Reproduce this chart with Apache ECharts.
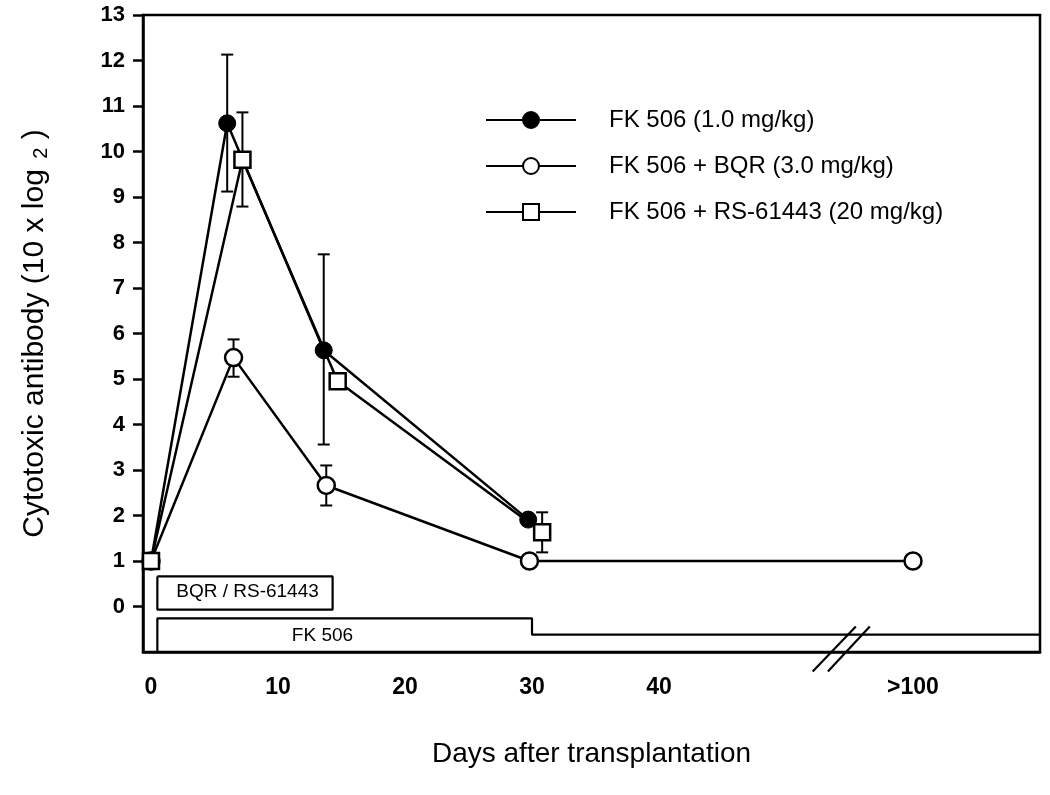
<!DOCTYPE html>
<html>
<head>
<meta charset="utf-8">
<script src="https://cdn.jsdelivr.net/npm/echarts@6/dist/echarts.min.js"></script>
<style>html,body{margin:0;padding:0;background:#fff}#c{width:1050px;height:795px}</style>
</head>
<body>
<div id="c"></div>
<script>
// ---- data ----
const seriesNames = ['FK 506 (1.0 mg/kg)', 'FK 506 + BQR (3.0 mg/kg)', 'FK 506 + RS-61443 (20 mg/kg)'];
const fkDays = [0, 6, 13.6, 29.7];
const fkVals = [1, 10.62, 5.63, 1.91];
const fkErr = [[6, 9.12, 12.13], [13.6, 3.56, 7.74]];
const bqrDays = [0, 6.5, 13.8, 29.8, 60];
const bqrVals = [1, 5.47, 2.66, 1.0, 1.0];
const bqrErr = [[6.5, 5.05, 5.87], [13.8, 2.22, 3.1]];
const rsDays = [0, 7.2, 14.7, 30.8];
const rsVals = [1, 9.82, 4.95, 1.63];
const rsErr = [[7.2, 8.79, 10.86], [30.8, 1.19, 2.07]];
const xTickValues = [0, 10, 20, 30, 40, 60];
const xTickLabels = ['0', '10', '20', '30', '40', '>100'];
const yTickValues = [0, 1, 2, 3, 4, 5, 6, 7, 8, 9, 10, 11, 12, 13];
// treatment bars (day, level)
const bqrBar = [[0.5, 0.66], [14.3, 0.66], [14.3, -0.07], [0.5, -0.07], [0.5, 0.66]];
const fkBar = [[0.5, -1], [0.5, -0.26], [30, -0.26], [30, -0.62], [70, -0.62]];
const barLabels = [[7.6, 0.32, 'BQR / RS-61443'], [13.5, -0.64, 'FK 506']];
const breakMark1 = [[52.1, -1.43], [55.5, -0.44]];
const breakMark2 = [[53.3, -1.43], [56.6, -0.44]];

const FONT = '"Liberation Sans", Arial, Helvetica, sans-serif';
const zip = (a, b) => a.map((v, i) => [v, b[i]]);

function errItem(params, api) {
  const x = api.value(0), lo = api.value(1), hi = api.value(2);
  const p1 = api.coord([x, lo]), p2 = api.coord([x, hi]);
  const w = 6;
  const st = {stroke: '#000', lineWidth: 2};
  return {type: 'group', children: [
    {type: 'line', shape: {x1: p1[0], y1: p1[1], x2: p2[0], y2: p2[1]}, style: st},
    {type: 'line', shape: {x1: p1[0] - w, y1: p1[1], x2: p1[0] + w, y2: p1[1]}, style: st},
    {type: 'line', shape: {x1: p2[0] - w, y1: p2[1], x2: p2[0] + w, y2: p2[1]}, style: st}
  ]};
}

const lineCommon = {
  type: 'line', color: '#000', lineStyle: {color: '#000', width: 2.5},
  symbolSize: 17, z: 5, animation: false
};
const plainLine = (data) => ({
  type: 'line', data, symbol: 'none', lineStyle: {color: '#000', width: 2.2},
  clip: false, silent: true, animation: false, z: 3
});

const chart = echarts.init(document.getElementById('c'), null, {renderer: 'canvas'});
chart.setOption({
  backgroundColor: '#fff',
  animation: false,
  textStyle: {fontFamily: FONT, color: '#000'},
  grid: {left: 143, right: 10, top: 15, bottom: 143, show: true, borderColor: '#000', borderWidth: 2.5},
  legend: {
    data: seriesNames, orient: 'vertical', left: 480, top: 103,
    itemWidth: 90, itemHeight: 20, itemGap: 22,
    textStyle: {fontSize: 24, fontFamily: FONT, color: '#000', padding: [0, 0, 0, 28]}
  },
  xAxis: {
    type: 'value', min: -0.63, max: 70,
    axisLine: {onZero: false, lineStyle: {color: '#000', width: 2.5}},
    axisTick: {show: false},
    splitLine: {show: false},
    axisLabel: {
      customValues: xTickValues, fontSize: 23, fontWeight: 'bold', color: '#000', margin: 24,
      formatter: (v) => { const i = xTickValues.indexOf(v); return i >= 0 ? xTickLabels[i] : ''; }
    },
    name: 'Days after transplantation', nameLocation: 'middle', nameGap: 88,
    nameTextStyle: {fontSize: 28, color: '#000', fontFamily: FONT}
  },
  yAxis: {
    type: 'value', min: -1, max: 13, interval: 1,
    axisLine: {show: true, onZero: false, lineStyle: {color: '#000', width: 2.5}},
    axisTick: {show: true, customValues: yTickValues, length: 10, lineStyle: {color: '#000', width: 2.5}},
    splitLine: {show: false},
    axisLabel: {customValues: yTickValues, fontSize: 22, fontWeight: 'bold', color: '#000', margin: 18},
    name: '{a|Cytotoxic antibody (10 x log }{s|2}{a| )}', nameLocation: 'middle', nameGap: 92, nameRotate: 90,
    nameTextStyle: {
      color: '#000', fontFamily: FONT,
      rich: {
        a: {fontSize: 30, fontFamily: FONT, color: '#000'},
        s: {fontSize: 20, fontFamily: FONT, color: '#000', padding: [12, 0, 0, 2]}
      }
    }
  },
  series: [
    {type: 'custom', name: 'errFK', data: fkErr, renderItem: errItem, encode: {x: 0, y: [1, 2]}, z: 2, silent: true},
    {type: 'custom', name: 'errBQR', data: bqrErr, renderItem: errItem, encode: {x: 0, y: [1, 2]}, z: 2, silent: true},
    {type: 'custom', name: 'errRS', data: rsErr, renderItem: errItem, encode: {x: 0, y: [1, 2]}, z: 2, silent: true},
    plainLine(bqrBar), plainLine(fkBar), plainLine(breakMark1), plainLine(breakMark2),
    {
      type: 'scatter', data: barLabels.map(d => [d[0], d[1], d[2]]), symbolSize: 0, silent: true, z: 4,
      itemStyle: {opacity: 1, color: '#000'},
      label: {show: true, position: 'inside', formatter: (p) => p.value[2], fontSize: 19, color: '#000',
        textBorderWidth: 0, opacity: 1, fontFamily: FONT}
    },
    Object.assign({}, lineCommon, {
      name: seriesNames[0], data: zip(fkDays, fkVals), symbol: 'circle',
      itemStyle: {color: '#000', borderColor: '#000', borderWidth: 1}
    }),
    Object.assign({}, lineCommon, {
      name: seriesNames[1], data: zip(bqrDays, bqrVals), symbol: 'circle', symbolSize: 17,
      itemStyle: {color: '#fff', borderColor: '#000', borderWidth: 2.5}
    }),
    Object.assign({}, lineCommon, {
      name: seriesNames[2], data: zip(rsDays, rsVals), symbol: 'rect', symbolSize: 16,
      itemStyle: {color: '#fff', borderColor: '#000', borderWidth: 2.5}
    })
  ]
});
</script>
</body>
</html>
